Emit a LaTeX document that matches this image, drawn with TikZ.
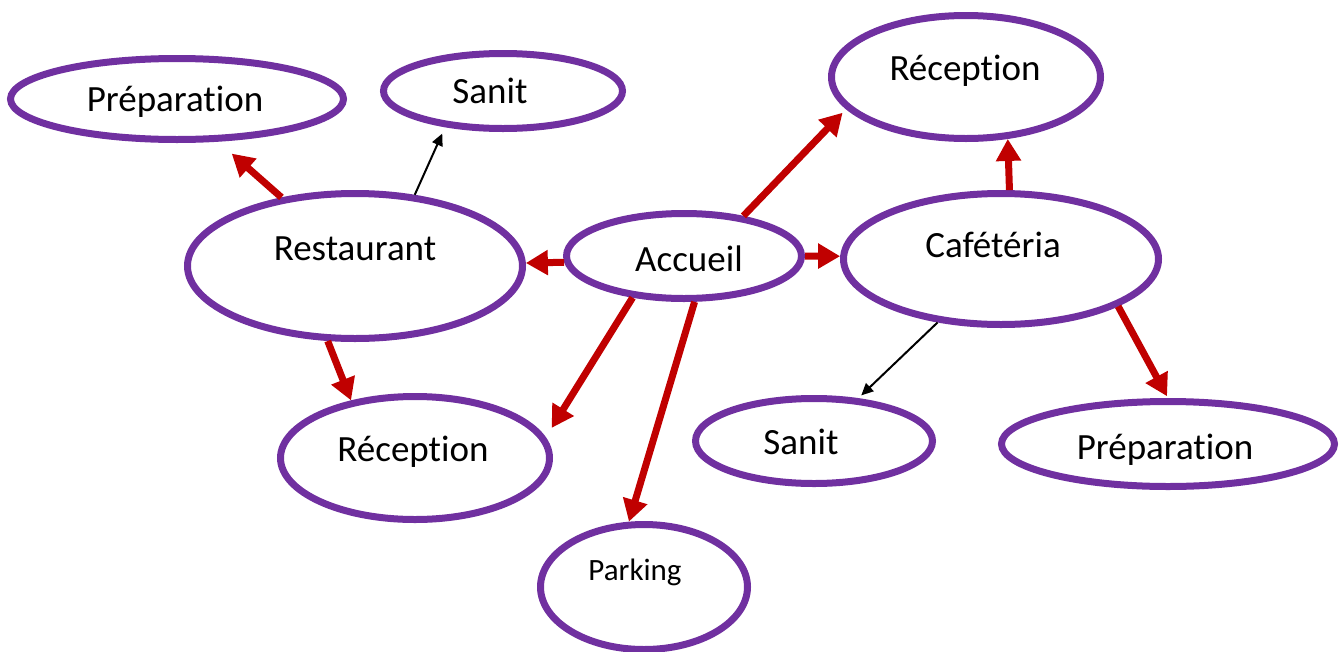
\documentclass[tikz,border=0pt]{standalone}
\usepackage{fontspec}
\setmainfont{Carlito}[Ligatures={NoCommon}]
\usetikzlibrary{arrows.meta,shapes.geometric}
\definecolor{ovalpurple}{HTML}{7030A0}
\definecolor{arrowred}{HTML}{C00000}
\begin{document}
\begin{tikzpicture}[x=1pt,y=-1pt,
  oval/.style={ellipse, draw=ovalpurple, line width=7pt, inner sep=0pt},
  lbl/.style={anchor=base, inner sep=0pt, font=\fontsize{37}{44}\selectfont},
  smalllbl/.style={lbl, font=\fontsize{31}{37}\selectfont},
  redarrow/.style={draw=arrowred, line width=7pt, -{Triangle[length=22pt,width=24pt]}},
  thinarrow/.style={draw=black, line width=2pt, -{Triangle[length=12pt,width=11pt]}}]
\useasboundingbox (0,0) rectangle (1344,651);

% ovals
\node[oval, minimum width=333pt, minimum height=81pt]  (prepL)  at (177,99)  {};
\node[oval, minimum width=239pt, minimum height=75pt]  (sanitT) at (503,91)  {};
\node[oval, minimum width=269pt, minimum height=123pt] (recT)   at (966,77)  {};
\node[oval, minimum width=335pt, minimum height=145pt] (rest)   at (355,266) {};
\node[oval, minimum width=235pt, minimum height=85pt]  (acc)    at (684,256) {};
\node[oval, minimum width=315pt, minimum height=131pt] (caf)    at (1001,259) {};
\node[oval, minimum width=269pt, minimum height=123pt] (recB)   at (415,458) {};
\node[oval, minimum width=237pt, minimum height=85pt]  (sanitB) at (814,441) {};
\node[oval, minimum width=333pt, minimum height=85pt]  (prepR)  at (1168,444) {};
\node[oval, minimum width=207pt, minimum height=125pt] (park)   at (644,587) {};

% labels
\node[lbl] (tPrepL)  at (175,111) {Préparation};
\node[lbl] (tSanitT) at (490,103) {Sanit};
\node[lbl] (tRecT)   at (965,80)  {Réception};
\node[lbl] (tRest)   at (355,260) {Restaurant};
\node[lbl] (tAcc)    at (689,271) {Accueil};
\node[lbl] (tCaf)    at (993,257) {Cafétéria};
\node[lbl] (tRecB)   at (413,461) {Réception};
\node[lbl] (tSanitB) at (801,454) {Sanit};
\node[lbl] (tPrepR)  at (1165,459) {Préparation};
\node[smalllbl] (tPark) at (635,580) {Parking};

% connectors
\draw[redarrow, shorten >=18pt] (rest.137) -- (prepL.-46);
\draw[thinarrow, shorten >=7pt] (rest.50) -- (sanitT.-148);
\draw[redarrow] (acc.183) -- (rest.1);
\draw[redarrow] (acc.east) -- (caf.179);
\draw[redarrow, shorten >=5pt] (acc.34) -- (recT.195);
\draw[redarrow] (caf.83) -- (recT.-56);
\draw[redarrow] (rest.250) -- (recB.138);
\draw[redarrow, shorten >=11pt] (acc.219) -- (recB.9);
\draw[redarrow] (acc.-77) -- (park.103);
\draw[thinarrow, shorten >=4pt] (caf.-135) -- (sanitB.44);
\draw[redarrow, shorten >=2pt] (caf.-22) -- (prepR.90);
\end{tikzpicture}
\end{document}
